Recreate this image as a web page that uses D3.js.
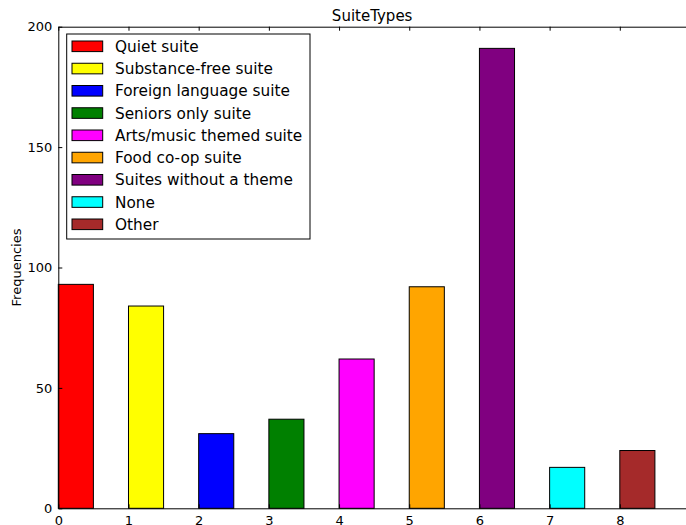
<!DOCTYPE html>
<html>
<head>
<meta charset="utf-8">
<script src="https://cdn.jsdelivr.net/npm/d3@7/dist/d3.min.js"></script>
<style>
  html, body { margin: 0; padding: 0; background: #fff; }
  svg { display: block; font-family: "DejaVu Sans", sans-serif; }
</style>
</head>
<body>
<svg id="chart" width="686" height="525"></svg>
<script>
const categories = ["Quiet suite", "Substance-free suite", "Foreign language suite", "Seniors only suite",
  "Arts/music themed suite", "Food co-op suite", "Suites without a theme", "None", "Other"];
const frequencies = [93, 84, 31, 37, 62, 92, 191, 17, 24];
const colors = ["#ff0000", "#ffff00", "#0000ff", "#008000", "#ff00ff", "#ffa500", "#800080", "#00ffff", "#a52a2a"];
const xTicks = [0, 1, 2, 3, 4, 5, 6, 7, 8];
const yTicks = [0, 50, 100, 150, 200];
const title = "SuiteTypes";
const yLabel = "Frequencies";

(function () {
const svg = d3.select("#chart");
const mLeft = 58.3, mRight = 690, mTop = 26.7, mBottom = 508.3;
const x = d3.scaleLinear().domain([0, 9]).range([mLeft, mRight]);
const y = d3.scaleLinear().domain([0, 200]).range([mBottom, mTop]);
const barW = 0.5;

// bars
svg.append("g").selectAll("rect").data(frequencies).join("rect")
  .attr("x", (d, i) => x(i))
  .attr("y", d => y(d))
  .attr("width", (d, i) => x(i + barW) - x(i))
  .attr("height", d => y(0) - y(d))
  .attr("fill", (d, i) => colors[i])
  .attr("stroke", "#000")
  .attr("stroke-width", 1);

// axes
const tickLen = 4;
const gx = svg.append("g").attr("transform", `translate(0,${mBottom})`)
  .call(d3.axisBottom(x).tickValues(xTicks).tickFormat(d3.format("d")).tickSizeInner(-tickLen).tickSizeOuter(0).tickPadding(6));
const gxTop = svg.append("g").attr("transform", `translate(0,${mTop})`)
  .call(d3.axisTop(x).tickValues(xTicks).tickFormat("").tickSizeInner(-tickLen).tickSizeOuter(0));
const gy = svg.append("g").attr("transform", `translate(${mLeft},0)`)
  .call(d3.axisLeft(y).tickValues(yTicks).tickFormat(d3.format("d")).tickSizeInner(-tickLen).tickSizeOuter(0).tickPadding(6));
[gx, gxTop, gy].forEach(g => {
  g.selectAll("path.domain").attr("stroke", "#000").attr("stroke-width", 1);
  g.selectAll(".tick line").attr("stroke", "#000").attr("stroke-width", 1);
  g.selectAll(".tick text").attr("fill", "#000").style("font-size", "13px").style("font-family", "DejaVu Sans");
});
gx.selectAll(".tick text").attr("dy", "0.8em");

// title
svg.append("text").attr("x", (mLeft + mRight) / 2 - 2).attr("y", 21)
  .attr("text-anchor", "middle").style("font-size", "15px").attr("fill", "#000").text(title);

// y label
svg.append("text").attr("transform", `translate(21,${(mTop + mBottom) / 2}) rotate(-90)`)
  .attr("text-anchor", "middle").style("font-size", "13px").attr("fill", "#000").text(yLabel);

// legend
const lg = svg.append("g");
lg.append("rect").attr("x", 66.7).attr("y", 34).attr("width", 243.3).attr("height", 205)
  .attr("fill", "#fff").attr("stroke", "#000").attr("stroke-width", 1);
const rowH = 22.25, firstY = 46.3;
const items = lg.selectAll("g.item").data(categories).join("g").attr("class", "item")
  .attr("transform", (d, i) => `translate(0,${firstY + i * rowH})`);
items.append("rect").attr("x", 72).attr("y", -5.3).attr("width", 30.7).attr("height", 10.6)
  .attr("fill", (d, i) => colors[i]).attr("stroke", "#000").attr("stroke-width", 1);
items.append("text").attr("x", 115).attr("y", 0).attr("dy", "0.36em")
  .style("font-size", "15.3px").attr("fill", "#000").text(d => d);
})();
</script>
</body>
</html>
